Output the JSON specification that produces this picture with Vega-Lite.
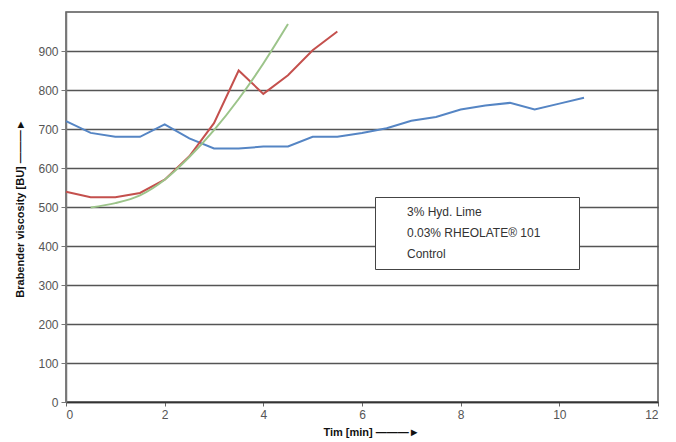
{
  "$schema": "https://vega.github.io/schema/vega-lite/v6.json",
  "width": 592,
  "height": 390,
  "autosize": {"type": "none"},
  "padding": {"left": 66, "top": 12, "right": 18, "bottom": 40},
  "background": "white",
  "config": {
    "font": "Liberation Sans",
    "view": {"stroke": "#555555", "strokeWidth": 1.5}
  },
  "data": {
    "values": [
      {"series": "3% Hyd. Lime", "t": 0, "v": 720},
      {"series": "3% Hyd. Lime", "t": 0.5, "v": 690},
      {"series": "3% Hyd. Lime", "t": 1, "v": 680},
      {"series": "3% Hyd. Lime", "t": 1.5, "v": 680},
      {"series": "3% Hyd. Lime", "t": 2, "v": 712},
      {"series": "3% Hyd. Lime", "t": 2.5, "v": 676},
      {"series": "3% Hyd. Lime", "t": 3, "v": 650},
      {"series": "3% Hyd. Lime", "t": 3.5, "v": 650},
      {"series": "3% Hyd. Lime", "t": 4, "v": 655},
      {"series": "3% Hyd. Lime", "t": 4.5, "v": 655},
      {"series": "3% Hyd. Lime", "t": 5, "v": 680},
      {"series": "3% Hyd. Lime", "t": 5.5, "v": 680},
      {"series": "3% Hyd. Lime", "t": 6, "v": 690},
      {"series": "3% Hyd. Lime", "t": 6.5, "v": 702},
      {"series": "3% Hyd. Lime", "t": 7, "v": 721},
      {"series": "3% Hyd. Lime", "t": 7.5, "v": 731},
      {"series": "3% Hyd. Lime", "t": 8, "v": 750},
      {"series": "3% Hyd. Lime", "t": 8.5, "v": 760},
      {"series": "3% Hyd. Lime", "t": 9, "v": 767},
      {"series": "3% Hyd. Lime", "t": 9.5, "v": 750},
      {"series": "3% Hyd. Lime", "t": 10, "v": 765},
      {"series": "3% Hyd. Lime", "t": 10.5, "v": 780},
      {"series": "0.03% RHEOLATE® 101", "t": 0, "v": 539},
      {"series": "0.03% RHEOLATE® 101", "t": 0.5, "v": 525},
      {"series": "0.03% RHEOLATE® 101", "t": 1, "v": 525},
      {"series": "0.03% RHEOLATE® 101", "t": 1.5, "v": 536},
      {"series": "0.03% RHEOLATE® 101", "t": 2, "v": 570},
      {"series": "0.03% RHEOLATE® 101", "t": 2.5, "v": 630},
      {"series": "0.03% RHEOLATE® 101", "t": 3, "v": 715},
      {"series": "0.03% RHEOLATE® 101", "t": 3.5, "v": 850},
      {"series": "0.03% RHEOLATE® 101", "t": 4, "v": 790},
      {"series": "0.03% RHEOLATE® 101", "t": 4.5, "v": 838},
      {"series": "0.03% RHEOLATE® 101", "t": 5, "v": 902},
      {"series": "0.03% RHEOLATE® 101", "t": 5.5, "v": 950},
      {"series": "Control", "t": 0.5, "v": 499},
      {"series": "Control", "t": 1, "v": 510},
      {"series": "Control", "t": 1.5, "v": 530},
      {"series": "Control", "t": 2, "v": 570},
      {"series": "Control", "t": 2.5, "v": 628},
      {"series": "Control", "t": 3, "v": 697},
      {"series": "Control", "t": 3.5, "v": 777},
      {"series": "Control", "t": 4, "v": 868},
      {"series": "Control", "t": 4.5, "v": 969}
    ]
  },
  "encoding": {
    "x": {
      "field": "t",
      "type": "quantitative",
      "scale": {"domain": [0, 12], "nice": false},
      "axis": {
        "values": [0, 2, 4, 6, 8, 10, 12],
        "grid": false,
        "domainColor": "#333333",
        "domainWidth": 1.5,
        "tickColor": "#666666",
        "tickSize": 4,
        "labelColor": "#555555",
        "labelFontSize": 12,
        "labelPadding": 3,
        "title": "Tim [min]    ———►",
        "titleFontSize": 11,
        "titleFontWeight": "bold",
        "titleColor": "#111111",
        "titleX": 305,
        "titleY": 30,
        "titleAnchor": null,
        "titleAlign": "center",
        "titleBaseline": "middle"
      }
    },
    "y": {
      "field": "v",
      "type": "quantitative",
      "scale": {"domain": [0, 1000], "nice": false},
      "axis": {
        "values": [0, 100, 200, 300, 400, 500, 600, 700, 800, 900],
        "grid": true,
        "gridColor": "#555555",
        "gridWidth": 1.3,
        "gridOpacity": 1,
        "domainColor": "#777777",
        "domainWidth": 1.5,
        "tickColor": "#777777",
        "tickSize": 5,
        "labelColor": "#555555",
        "labelFontSize": 12,
        "labelPadding": 3,
        "title": "Brabender viscosity [BU]   ———►",
        "titleFontSize": 11,
        "titleFontWeight": "bold",
        "titleColor": "#111111",
        "titleAngle": -90,
        "titleX": -46,
        "titleY": 196,
        "titleAnchor": null,
        "titleAlign": "center",
        "titleBaseline": "middle"
      }
    },
    "color": {
      "field": "series",
      "type": "nominal",
      "scale": {
        "domain": ["3% Hyd. Lime", "0.03% RHEOLATE® 101", "Control"],
        "range": ["#5585c4", "#c4504d", "#9cc48a"]
      },
      "legend": {
        "orient": "none",
        "legendX": 309,
        "legendY": 185,
        "title": " ",
        "titleOrient": "right",
        "titlePadding": 30,
        "padding": 9,
        "rowPadding": 9,
        "fillColor": "white",
        "strokeColor": "#444444",
        "symbolOpacity": 0,
        "symbolStrokeWidth": 0,
        "symbolSize": 100,
        "labelOffset": 11,
        "labelFontSize": 12,
        "labelColor": "#333333"
      }
    }
  },
  "layer": [
    {
      "transform": [{"filter": "datum.series != 'Control'"}],
      "mark": {"type": "line", "strokeWidth": 2}
    },
    {
      "transform": [{"filter": "datum.series == 'Control'"}],
      "mark": {"type": "line", "strokeWidth": 2, "interpolate": "monotone"}
    }
  ]
}
